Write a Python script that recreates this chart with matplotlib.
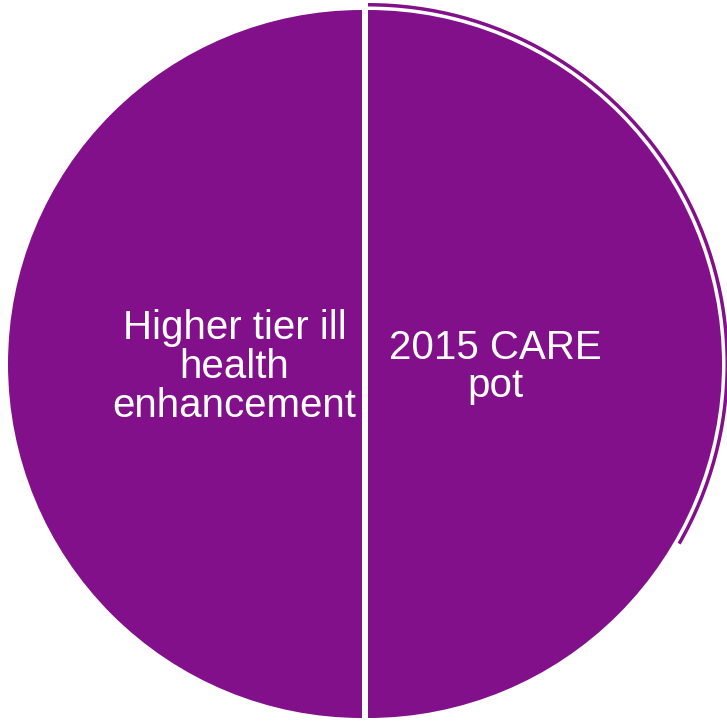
import matplotlib
matplotlib.use("Agg")
import matplotlib.pyplot as plt
from matplotlib.patches import Wedge

labels = ["Higher tier ill\nhealth\nenhancement", "2015 CARE\npot"]
values = [50, 50]
color = "#82108A"

W, H = 727, 721
fig = plt.figure(figsize=(W / 100, H / 100), dpi=100)
ax = fig.add_axes([0, 0, 1, 1])

R = 354
cx, cy = 365, H - 364
wedges, texts = ax.pie(
    values,
    labels=labels,
    colors=[color, color],
    startangle=90,
    counterclock=True,
    explode=[3, 3],
    center=(cx, cy),
    radius=R,
    labeldistance=0.36,
    wedgeprops=dict(linewidth=0),
    textprops=dict(color="white", fontsize=29, family="Liberation Sans",
                   linespacing=1.03),
    frame=True,
)
for t in texts:
    t.set_ha("center")
    t.set_va("center")
    x, y = t.get_position()
    t.set_position((x, y - 3))
ax.set_xlim(0, W)
ax.set_ylim(0, H)
ax.axis("off")

# outer thin arc around the right slice
arc = Wedge((cx + 3, cy), R + 7, -30, 90, width=3.5, facecolor=color, linewidth=0)
ax.add_patch(arc)

fig.savefig("out.png", dpi=100)
